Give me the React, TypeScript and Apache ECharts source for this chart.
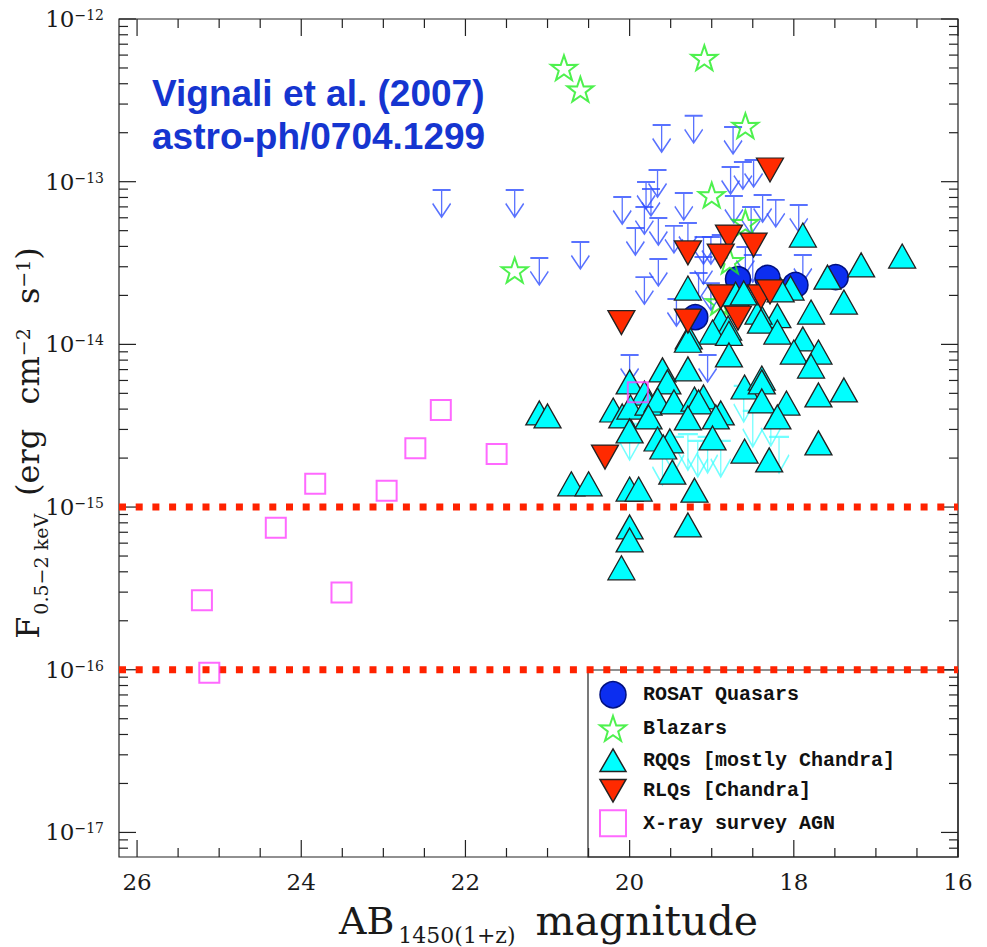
import React, { useEffect, useRef } from 'react';
import * as echarts from 'echarts';

// ---------------- data (AB magnitude, flux 0.5-2 keV) ----------------
const rosatQuasars: number[][] = [
  [19.2, 1.47e-14], [18.68, 2.52e-14], [18.32, 2.56e-14], [17.98, 2.32e-14], [17.49, 2.59e-14],
];
const blazars: number[][] = [
  [20.8, 5.02e-13], [20.6, 3.7e-13], [19.09, 5.78e-13], [18.59, 2.21e-13], [19.0, 8.28e-14],
  [21.4, 2.86e-14], [18.59, 5.6e-14], [18.78, 3.26e-14], [18.91, 1.82e-14],
];
const rqqs: number[][] = [
  [17.89, 4.7e-14], [17.18, 3.08e-14], [16.68, 3.49e-14], [17.59, 2.59e-14], [17.39, 1.82e-14],
  [19.29, 2.22e-14], [18.04, 2.22e-14], [18.16, 2.16e-14], [18.71, 2.04e-14], [17.79, 1.58e-14],
  [18.2, 1.5e-14], [18.43, 1.58e-14], [18.4, 1.39e-14], [18.2, 1.19e-14], [18.89, 1.41e-14],
  [18.8, 1.26e-14], [18.99, 1.19e-14], [18.79, 1.17e-14], [19.28, 1.11e-14], [19.29, 1.06e-14],
  [18.79, 8.61e-15], [17.89, 1.08e-14], [18.0, 8.97e-15], [17.7, 8.97e-15], [17.79, 7.36e-15],
  [19.6, 6.97e-15], [19.54, 5.88e-15], [19.29, 7.07e-15], [20.0, 5.88e-15], [19.82, 5.02e-15],
  [20.2, 3.95e-15], [20.09, 3.63e-15], [19.99, 4.12e-15], [19.77, 4.36e-15], [19.66, 4.55e-15],
  [19.77, 3.58e-15], [19.46, 4.43e-15], [19.21, 4.61e-15], [19.1, 4.75e-15], [19.16, 4.43e-15],
  [18.89, 3.79e-15], [18.95, 3.58e-15], [19.29, 3.53e-15], [20.0, 2.94e-15], [19.66, 2.62e-15],
  [19.51, 2.55e-15], [19.59, 2.34e-15], [18.99, 2.66e-15], [18.6, 5.47e-15], [18.39, 6.21e-15],
  [18.39, 5.88e-15], [18.39, 4.49e-15], [18.09, 4.36e-15], [18.2, 3.58e-15], [17.7, 4.89e-15],
  [17.39, 5.25e-15], [18.6, 2.21e-15], [18.3, 1.95e-15], [17.7, 2.48e-15], [19.48, 1.64e-15],
  [19.21, 1.27e-15], [20.71, 1.39e-15], [20.5, 1.39e-15], [20.0, 1.29e-15], [19.89, 1.29e-15],
  [21.1, 3.79e-15], [21.0, 3.63e-15], [19.29, 7.76e-16], [20.0, 7.55e-16], [20.0, 6.28e-16],
  [20.1, 4.23e-16], [18.61, 2.07e-14],
];
const rlqs: number[][] = [
  [18.29, 1.18e-13], [18.79, 4.57e-14], [18.49, 4.08e-14], [19.29, 3.65e-14], [18.89, 3.49e-14],
  [20.1, 1.36e-14], [18.89, 1.96e-14], [18.68, 1.45e-14], [18.4, 1.96e-14], [18.29, 2.1e-14],
  [19.29, 1.39e-14], [20.3, 2.03e-15],
];
const surveyAgn: number[][] = [
  [22.3, 3.95e-15], [22.61, 2.3e-15], [21.62, 2.12e-15], [23.83, 1.39e-15], [22.96, 1.26e-15],
  [24.31, 7.46e-16], [25.21, 2.67e-16], [23.51, 2.98e-16], [25.12, 9.6e-17], [19.9, 5.08e-15],
];
const blueUpperLimits: number[][] = [
  [22.29, 8.89e-14], [21.4, 8.89e-14], [21.1, 3.4e-14], [20.6, 4.26e-14], [19.61, 2.23e-13],
  [19.22, 2.54e-13], [18.74, 2.17e-13], [20.09, 8.05e-14], [19.66, 1.18e-13], [19.8, 9.96e-14],
  [19.74, 9.02e-14], [19.34, 8.53e-14], [19.93, 5.19e-14], [19.82, 6.98e-14], [19.65, 5.98e-14],
  [19.46, 5.35e-14], [19.29, 5.57e-14], [19.65, 3.35e-14], [19.82, 2.59e-14], [19.43, 1.9e-14],
  [18.77, 1.23e-13], [18.62, 1.32e-13], [18.49, 1.36e-13], [18.73, 8.17e-14], [18.38, 8.28e-14],
  [18.22, 7.73e-14], [17.94, 7.2e-14], [18.52, 6.98e-14], [19.1, 4.57e-14], [19.01, 4.57e-14],
  [18.89, 4.7e-14], [19.1, 3.44e-14], [19.16, 2.75e-14], [19.01, 2.38e-14], [18.59, 3.97e-14],
  [18.5, 3.54e-14], [17.89, 3.54e-14], [20.0, 8.61e-15], [19.05, 8.61e-15],
];
const cyanUpperLimits: number[][] = [
  [20.0, 3.24e-15], [19.6, 2.28e-15], [19.46, 2.7e-15], [19.29, 2.81e-15], [19.17, 2.55e-15],
  [19.05, 2.7e-15], [18.89, 2.55e-15], [18.61, 5.55e-15], [18.5, 3.9e-15], [18.28, 3.95e-15],
  [18.18, 2.7e-15],
];
const fluxLimits: number[] = [1e-15, 1e-16];

const legendNames = ['ROSAT Quasars', 'Blazars', 'RQQs [mostly Chandra]', 'RLQs [Chandra]', 'X-ray survey AGN'];
const titleLines = ['Vignali et al. (2007)', 'astro-ph/0704.1299'];

// axis extents
const X_MIN = 16;
const X_MAX = 26.22;
const Y_MIN = Math.pow(10, -17.151);
const Y_MAX = 1e-12;

// tick marks (major every 2 mag, minor every 0.5; log minor ticks 2..9)
const xTicks: number[][] = [];
for (let v = 16; v <= 26.0001; v += 0.5) xTicks.push([v, 1e-15, Math.abs(v % 2) < 1e-6 ? 1 : 0]);
const yTicks: number[][] = [];
for (let e = -18; e <= -12; e++) {
  for (let k = 1; k <= 9; k++) {
    const v = k * Math.pow(10, e);
    if (v >= Y_MIN * 1.0001 && v <= Y_MAX * 1.0001) yTicks.push([20, v, k === 1 ? 1 : 0]);
  }
}

const STAR = 'path://M50,0 L61.8,35.1 L97.6,34.5 L69.1,56.7 L79.4,90.5 L50,70 L20.6,90.5 L30.9,56.7 L2.4,34.5 L38.2,35.1 Z';
const TRI_UP = 'path://M15,0 L30,26 L0,26 Z';
const TRI_DOWN = 'path://M0,0 L30,0 L15,26 Z';
const ARROW = 'path://M0,0 L20,0 M10,0 L10,30 M0,15 L10,30 L20,15';

const SERIF = 'DejaVu Serif';
const INK = '#1a1a1a';

export default function App() {
  const ref = useRef<HTMLDivElement>(null);
  useEffect(() => {
    if (!ref.current) return;
    const chart = echarts.init(ref.current, null, { renderer: 'svg' });

    const tickStyle = { stroke: '#222', lineWidth: 1.2 };

    const limitSeries = fluxLimits.map((v, i) => ({
      name: 'flux limit ' + (i + 1),
      type: 'line',
      data: [[X_MAX, v], [X_MIN, v]],
      symbol: 'none',
      silent: true,
      z: 2,
      lineStyle: { color: '#ff2200', width: 7, type: [7, 9.7], cap: 'butt' },
      emphasis: { disabled: true },
    }));

    const option: any = {
      animation: false,
      backgroundColor: '#fff',
      title: {
        text: titleLines.join('\n'),
        left: 152,
        top: 72,
        padding: 0,
        textStyle: {
          color: '#1535d0',
          fontFamily: 'Liberation Sans',
          fontWeight: 'bold',
          fontSize: 37,
          lineHeight: 43,
        },
      },
      grid: {
        left: 119, top: 19, width: 839, height: 838,
        outerBoundsMode: 'none',
        containLabel: false,
        show: true, borderColor: '#222', borderWidth: 1.2, backgroundColor: 'transparent',
      },
      xAxis: {
        type: 'value', min: X_MIN, max: X_MAX, interval: 2, inverse: true,
        axisLine: { show: false }, axisTick: { show: false }, splitLine: { show: false },
        axisLabel: {
          margin: 13,
          fontFamily: SERIF, fontSize: 23, lineHeight: 23, color: INK,
          formatter: (v: number) => (Math.abs(v - Math.round(v)) < 1e-6 && Math.round(v) % 2 === 0 ? String(Math.round(v)) : ''),
        },
        name: '{a|AB}{s|1450(1+z)}{m|magnitude}',
        nameLocation: 'middle',
        nameGap: 39,
        nameMoveOverlap: false,
        nameTextStyle: {
          color: INK,
          rich: {
            a: { fontFamily: SERIF, fontSize: 38, lineHeight: 50, color: INK, padding: [0, 4, 0, 20] },
            s: { fontFamily: SERIF, fontSize: 22, lineHeight: 22, color: INK, verticalAlign: 'bottom' },
            m: { fontFamily: SERIF, fontSize: 41, lineHeight: 50, color: INK, padding: [0, 0, 0, 20] },
          },
        },
      },
      yAxis: {
        type: 'log', logBase: 10, min: Y_MIN, max: Y_MAX,
        axisLine: { show: false }, axisTick: { show: false }, splitLine: { show: false },
        axisLabel: {
          margin: 15,
          formatter: (v: number) => {
            const e = Math.log10(v);
            const r = Math.round(e);
            if (Math.abs(e - r) > 1e-4) return '';
            return `{b|10}{e|${r < 0 ? '\u2212' : ''}${Math.abs(r)}}`;
          },
          rich: {
            b: { fontFamily: SERIF, fontSize: 23, lineHeight: 24, color: INK },
            e: { fontFamily: SERIF, fontSize: 14, lineHeight: 14, color: INK, padding: [0, 0, 8, 0] },
          },
        },
        name: '{F|F}{s|0.5\u22122 keV}{p|(erg}{q| cm}{u|\u22122}{q| s}{u|\u22121}{r|)}',
        nameLocation: 'middle',
        nameGap: 75,
        nameMoveOverlap: false,
        nameTextStyle: {
          color: INK,
          rich: {
            F: { fontFamily: SERIF, fontSize: 32, lineHeight: 32, color: INK },
            s: { fontFamily: SERIF, fontSize: 19, lineHeight: 19, color: INK, padding: [25, 0, 0, 2] },
            p: { fontFamily: SERIF, fontSize: 32, lineHeight: 32, color: INK, padding: [0, 0, 0, 18] },
            q: { fontFamily: SERIF, fontSize: 32, lineHeight: 32, color: INK, padding: [0, 0, 0, 14] },
            u: { fontFamily: SERIF, fontSize: 19, lineHeight: 19, color: INK, padding: [0, 0, 11, 0] },
            r: { fontFamily: SERIF, fontSize: 32, lineHeight: 32, color: INK, padding: [0, 10, 0, 0] },
          },
        },
      },
      legend: {
        orient: 'vertical',
        left: 599,
        top: 681,
        itemWidth: 26,
        itemHeight: 26,
        itemGap: 6.5,
        padding: 0,
        selectedMode: false,
        textStyle: { fontFamily: 'Liberation Mono', fontWeight: 'bold', fontSize: 20, color: '#111', padding: [0, 0, 0, 12] },
        data: [
          { name: legendNames[0], icon: 'circle', itemStyle: { color: '#0c2ef0', borderColor: '#001080', borderWidth: 1.5 } },
          { name: legendNames[1], icon: STAR, itemStyle: { color: 'rgba(0,0,0,0)', borderColor: '#22ee22', borderWidth: 2 } },
          { name: legendNames[2], icon: TRI_UP, itemStyle: { color: '#00ffff', borderColor: '#222', borderWidth: 1.5 } },
          { name: legendNames[3], icon: TRI_DOWN, itemStyle: { color: '#ff2a00', borderColor: '#222', borderWidth: 1.5 } },
          { name: legendNames[4], icon: 'rect', itemStyle: { color: 'rgba(0,0,0,0)', borderColor: '#ff44ff', borderWidth: 2 } },
        ],
      },
      graphic: [
        {
          type: 'rect', silent: true, z: 1,
          shape: { x: 588, y: 670, width: 370, height: 187 },
          style: { fill: 'none', stroke: '#222', lineWidth: 1.2 },
        },
      ],
      series: [
        ...limitSeries,
        {
          name: 'x ticks', type: 'custom', silent: true, z: 2, data: xTicks, encode: { x: 0, y: 1 },
          renderItem: (params: any, api: any) => {
            const cs = params.coordSys;
            const x = api.coord([api.value(0), 1e-15])[0];
            const len = api.value(2) ? 17 : 9;
            return {
              type: 'group',
              children: [
                { type: 'line', shape: { x1: x, y1: cs.y + cs.height, x2: x, y2: cs.y + cs.height - len }, style: tickStyle },
                { type: 'line', shape: { x1: x, y1: cs.y, x2: x, y2: cs.y + len }, style: tickStyle },
              ],
            };
          },
        },
        {
          name: 'y ticks', type: 'custom', silent: true, z: 2, data: yTicks, encode: { x: 0, y: 1 },
          renderItem: (params: any, api: any) => {
            const cs = params.coordSys;
            const y = api.coord([20, api.value(1)])[1];
            const len = api.value(2) ? 17 : 9;
            return {
              type: 'group',
              children: [
                { type: 'line', shape: { x1: cs.x, y1: y, x2: cs.x + len, y2: y }, style: tickStyle },
                { type: 'line', shape: { x1: cs.x + cs.width, y1: y, x2: cs.x + cs.width - len, y2: y }, style: tickStyle },
              ],
            };
          },
        },
        {
          name: 'ROSAT upper limits', type: 'scatter', data: blueUpperLimits, z: 3,
          symbol: ARROW, symbolSize: [18, 27], symbolOffset: [0, 13.5],
          itemStyle: { color: 'rgba(0,0,0,0)', borderColor: '#2f4fff', borderWidth: 1.6 },
        },
        {
          name: legendNames[0], type: 'scatter', data: rosatQuasars, z: 4,
          symbol: 'circle', symbolSize: 25,
          itemStyle: { color: '#0c2ef0', borderColor: '#001080', borderWidth: 1.5, opacity: 1 },
        },
        {
          name: legendNames[1], type: 'scatter', data: blazars, z: 5,
          symbol: STAR, symbolSize: 26, symbolKeepAspect: true,
          itemStyle: { color: 'rgba(0,0,0,0)', borderColor: '#22ee22', borderWidth: 2 },
        },
        {
          name: 'RQQ upper limits', type: 'scatter', data: cyanUpperLimits, z: 6,
          symbol: ARROW, symbolSize: [20, 36], symbolOffset: [0, 18],
          itemStyle: { color: 'rgba(0,0,0,0)', borderColor: 'rgba(60,255,255,0.9)', borderWidth: 1.7 },
        },
        {
          name: legendNames[2], type: 'scatter', data: rqqs, z: 7,
          symbol: TRI_UP, symbolSize: [27, 24],
          itemStyle: { color: '#00ffff', borderColor: '#222', borderWidth: 1.3, opacity: 1 },
        },
        {
          name: legendNames[3], type: 'scatter', data: rlqs, z: 8,
          symbol: TRI_DOWN, symbolSize: [27, 24],
          itemStyle: { color: '#ff2a00', borderColor: '#222', borderWidth: 1.3, opacity: 1 },
        },
        {
          name: legendNames[4], type: 'scatter', data: surveyAgn, z: 9,
          symbol: 'rect', symbolSize: 20,
          itemStyle: { color: 'rgba(0,0,0,0)', borderColor: '#ff44ff', borderWidth: 2 },
        },
      ],
    };

    chart.setOption(option);
    return () => chart.dispose();
  }, []);

  return <div ref={ref} style={{ position: 'fixed', left: 0, top: 0, width: 987, height: 947 }} />;
}
